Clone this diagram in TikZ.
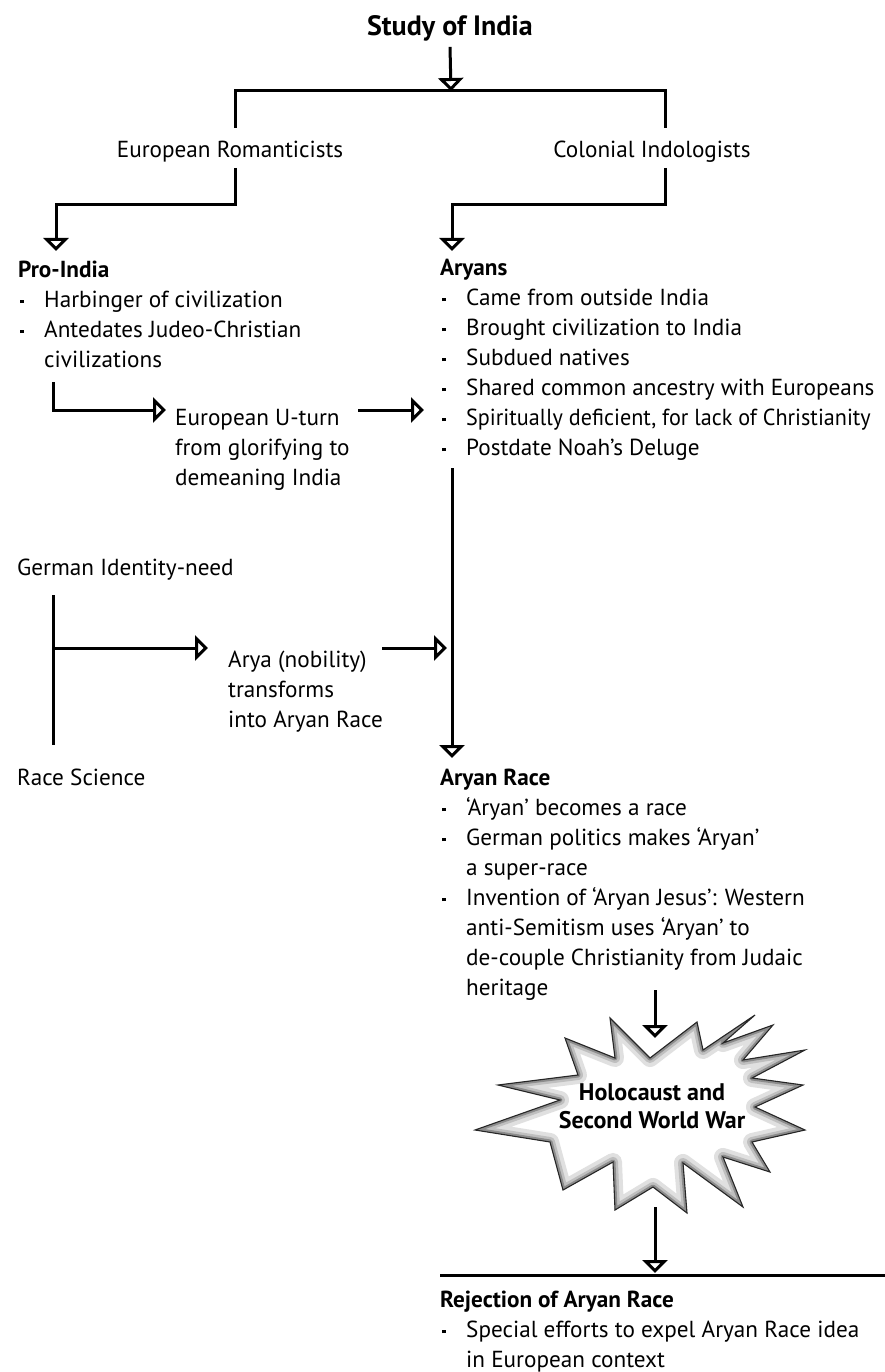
\documentclass[tikz,border=0pt]{standalone}
\usepackage{fontspec}
\usepackage{graphicx}
\setmainfont{PT Sans}
\usetikzlibrary{arrows.meta}
% bullet marker and continuation indent for list lines
\newcommand\bitem{\makebox[26pt][l]{\hspace{2pt}\raisebox{4pt}{\rule{3.6pt}{3.6pt}}}}
\newcommand\bcont{\hspace*{26pt}}
% fixed first-line height so the node top sits 22pt above the first baseline
\newcommand\fl{\rule{0pt}{22pt}}
% outline of the explosion shape
\newcommand\burstpath{(650,1058) -- (610,1018) -- (615,1058) -- (565,1038) -- (578,1075) -- (498,1085) -- (560,1100) -- (475,1130) -- (550,1142) -- (563,1190) -- (613,1162) -- (615,1210) -- (653,1187) -- (687,1213) -- (683,1163) -- (743,1207) -- (723,1157) -- (770,1172) -- (752,1142) -- (805,1130) -- (755,1107) -- (803,1085) -- (752,1078) -- (805,1050) -- (743,1060) -- (773,1025) -- (723,1043) -- (755,1015) -- (703,1050) -- (697,1022) -- cycle}
\begin{document}
\begin{tikzpicture}[x=1pt,y=-1pt,
  body/.style={inner sep=0pt, font=\fontsize{23.2}{30}\selectfont},
  block/.style={body, anchor=north west, align=left},
  ln/.style={line width=3pt},
  conn/.style={ln, -{Triangle[open, length=13pt, width=25pt]}}]
\useasboundingbox (0,0) rectangle (885,1372);
\fill[white] (0,0) rectangle (885,1372);

% ---- headings and text blocks ----
\node[body, anchor=base, font=\fontsize{28}{30}\selectfont\bfseries] (title) at (450,36) {Study of India};
\node[body, anchor=base] (romant) at (230,158) {European Romanticists};
\node[body, anchor=base] (colon) at (652,158) {Colonial Indologists};

\node[block] (pro) at (18,255) {\fl\textbf{Pro-India}\\
  \bitem Harbinger of civilization\\
  \bitem Antedates Judeo-Christian\\
  \bcont civilizations};

\node[block] (aryans) at (440,253) {\fl\textbf{Aryans}\\
  \bitem Came from outside India\\
  \bitem Brought civilization to India\\
  \bitem Subdued natives\\
  \bitem Shared common ancestry with Europeans\\
  \bitem \scalebox{0.955}[1]{Spiritually deficient, for lack of Christianity}\\
  \bitem Postdate Noah’s Deluge};

\node[block] (uturn) at (175,403) {\fl European U-turn\\from glorifying to\\demeaning India};

\node[body, anchor=base west] (german) at (17,575) {German Identity-need};
\node[block] (arya) at (228,645) {\fl Arya (nobility)\\transforms\\into Aryan Race};
\node[body, anchor=base west] (racesci) at (17,785) {Race Science};

\node[block] (race) at (440,763) {\fl\textbf{Aryan Race}\\
  \bitem ‘Aryan’ becomes a race\\
  \bitem German politics makes ‘Aryan’\\
  \bcont a super-race\\
  \bitem Invention of ‘Aryan Jesus’: Western\\
  \bcont anti-Semitism uses ‘Aryan’ to\\
  \bcont de-couple Christianity from Judaic\\
  \bcont heritage};

\node[block] (reject) at (440,1285) {\fl\textbf{Rejection of Aryan Race}\\
  \bitem Special efforts to expel Aryan Race idea\\
  \bcont in European context};

% ---- explosion with inner shading ----
\fill[white] \burstpath;
\begin{scope}
  \clip \burstpath;
  \draw[line width=18pt, black!12, line join=round] \burstpath;
  \draw[line width=10pt, black!25, line join=round] \burstpath;
  \draw[line width=5pt, black!45, line join=round] \burstpath;
\end{scope}
\draw[line width=1.1pt, black!85] \burstpath;
\node[block, anchor=north, align=center, font=\fontsize{24}{28}\selectfont\bfseries] (war) at (652,1078) {\fl Holocaust and\\Second World War};

% ---- junction points ----
\coordinate (bar) at (451,91);
\coordinate (barL) at (235,91);
\coordinate (barR) at (665,91);
\coordinate (romTop) at (235,128);
\coordinate (colTop) at (665,128);
\coordinate (romBot) at (235,168);
\coordinate (colBot) at (665,168);
\coordinate (proTip) at (56,251);
\coordinate (aryTip) at (452,251);
\coordinate (proOut) at (53,382);
\coordinate (uturnIn) at (166,410);
\coordinate (uturnOut) at (358,410);
\coordinate (aryansIn) at (424,410);
\coordinate (aryansOut) at (452,468);
\coordinate (raceTip) at (452,758);
\coordinate (gTop) at (53,595);
\coordinate (gBot) at (53,745);
\coordinate (gMid) at (53,648);
\coordinate (aryaIn) at (208,648);
\coordinate (aryaOut) at (382,648);
\coordinate (stemIn) at (447,648);
\coordinate (raceOut) at (655,990);
\coordinate (warIn) at (655,1038);
\coordinate (warOut) at (655,1207);
\coordinate (rejTip) at (655,1273);
\coordinate (rejL) at (440,1275);
\coordinate (rejR) at (885,1275);

% ---- connectors ----
\draw[conn] (title.south) ++(0,5) coordinate (titleOut) -- (bar);
\draw[ln] (romTop) -- (barL) -- (barR) -- (colTop);
\draw[conn] (romBot) -- (romBot |- 0,205) -| (proTip);
\draw[conn] (colBot) -- (colBot |- 0,205) -| (aryTip);
\draw[conn] (proOut) |- (uturnIn);
\draw[conn] (uturnOut) -- (aryansIn);
\draw[conn] (aryansOut) -- (raceTip);
\draw[ln] (gTop) -- (gBot);
\draw[conn] (gMid) -- (aryaIn);
\draw[conn] (aryaOut) -- (stemIn);
\draw[conn] (raceOut) -- (warIn);
\draw[conn] (warOut) -- (rejTip);
\draw[ln] (rejL) -- (rejR);
\end{tikzpicture}
\end{document}
